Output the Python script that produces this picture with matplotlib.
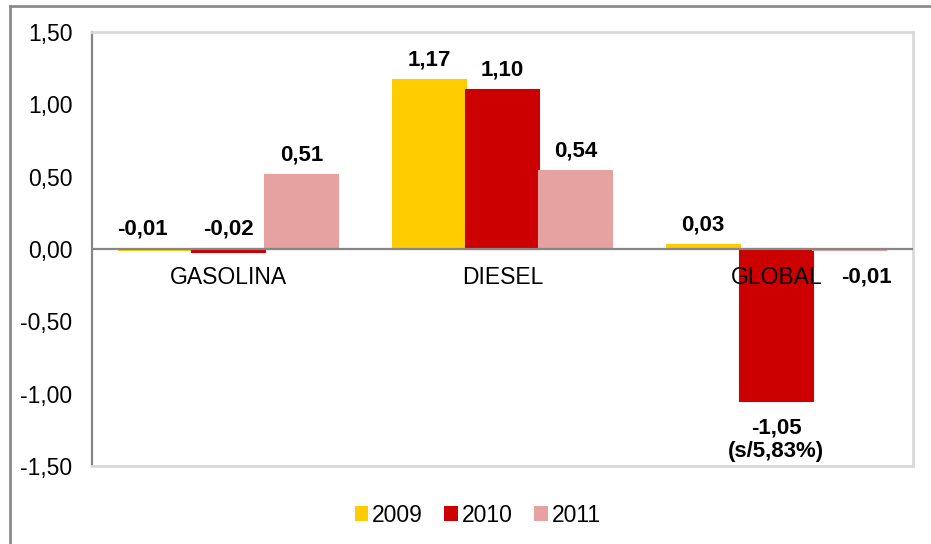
import matplotlib
matplotlib.use("Agg")
import matplotlib.pyplot as plt
from matplotlib.patches import Patch
from matplotlib.lines import Line2D
import numpy as np

plt.rcParams['font.family'] = ['Liberation Sans', 'DejaVu Sans']

categories = ['GASOLINA', 'DIESEL', 'GLOBAL']
years = ['2009', '2010', '2011']
v2009 = [-0.01, 1.17, 0.03]
v2010 = [-0.02, 1.10, -1.05]
v2011 = [0.51, 0.54, -0.01]
note_global_2010 = '(s/5,83%)'
yticks = [-1.5, -1.0, -0.5, 0.0, 0.5, 1.0, 1.5]

colors = ['#FFCC00', '#CC0000', '#E6A1A1']
fs = 16.5

fig = plt.figure(figsize=(9.31, 5.44), dpi=100)
ax = fig.add_axes([0.0988, 0.1434, 0.882, 0.7978])

x = np.arange(len(categories))
w = 0.267
series = [v2009, v2010, v2011]
for i, vals in enumerate(series):
    ax.bar(x + (i - 1) * w, vals, w, color=colors[i], edgecolor=colors[i],
           linewidth=1.5, zorder=2)

def fmt(v):
    return f'{v:.2f}'.replace('.', ',')

# data labels (offsets in pixels, tweaked per bar)
for i, vals in enumerate(series):
    for j, v in enumerate(vals):
        xc = x[j] + (i - 1) * w
        txt = fmt(v)
        if j == 2 and i == 1:
            ax.annotate(txt + '\n' + note_global_2010, (xc, v), xytext=(0, -39),
                        textcoords='offset pixels', ha='center', va='center',
                        fontsize=16, fontweight='bold', linespacing=1.2)
        elif j == 2 and i == 2:
            ax.annotate(txt, (xc, 0), xytext=(17, -28), textcoords='offset pixels',
                        ha='center', va='center', fontsize=16, fontweight='bold')
        else:
            dx = -13 if (j == 0 and i == 0) else 0
            ax.annotate(txt, (xc, max(v, 0)), xytext=(dx, 20), textcoords='offset pixels',
                        ha='center', va='center', fontsize=16, fontweight='bold')

# category names just under the zero line
for j, c in enumerate(categories):
    ax.annotate(c, (x[j], 0), xytext=(0, -29), textcoords='offset pixels',
                ha='center', va='center', fontsize=fs, zorder=3)

ax.axhline(0, color='#868686', lw=1.6, zorder=3)

ax.set_xlim(-0.5, 2.5)
ax.set_ylim(-1.5, 1.5)
ax.set_xticks([])
ax.set_yticks(yticks)
ax.set_yticklabels([fmt(t) for t in yticks], fontsize=fs)
ax.tick_params(axis='y', length=0, pad=14)

ax.spines['left'].set_color('#868686')
ax.spines['left'].set_linewidth(1.6)
for s in ['top', 'right', 'bottom']:
    ax.spines[s].set_color('#D9D9D9')
    ax.spines[s].set_linewidth(2)

handles = [Patch(facecolor=c, edgecolor='none') for c in colors]
fig.legend(handles, years, loc='center', bbox_to_anchor=(0.513, 0.053), ncol=3,
           frameon=False, fontsize=fs, handlelength=0.6, handleheight=0.6,
           handletextpad=0.15, columnspacing=0.95)

# outer chart frame (left and top edges visible)
fig.add_artist(Line2D([10 / 931, 10 / 931], [0, 1 - 6 / 544], color='#8C8C8C', lw=2,
                      transform=fig.transFigure))
fig.add_artist(Line2D([10 / 931, 1], [1 - 6 / 544, 1 - 6 / 544], color='#8C8C8C', lw=2,
                      transform=fig.transFigure))

fig.savefig('out.png', dpi=100)
